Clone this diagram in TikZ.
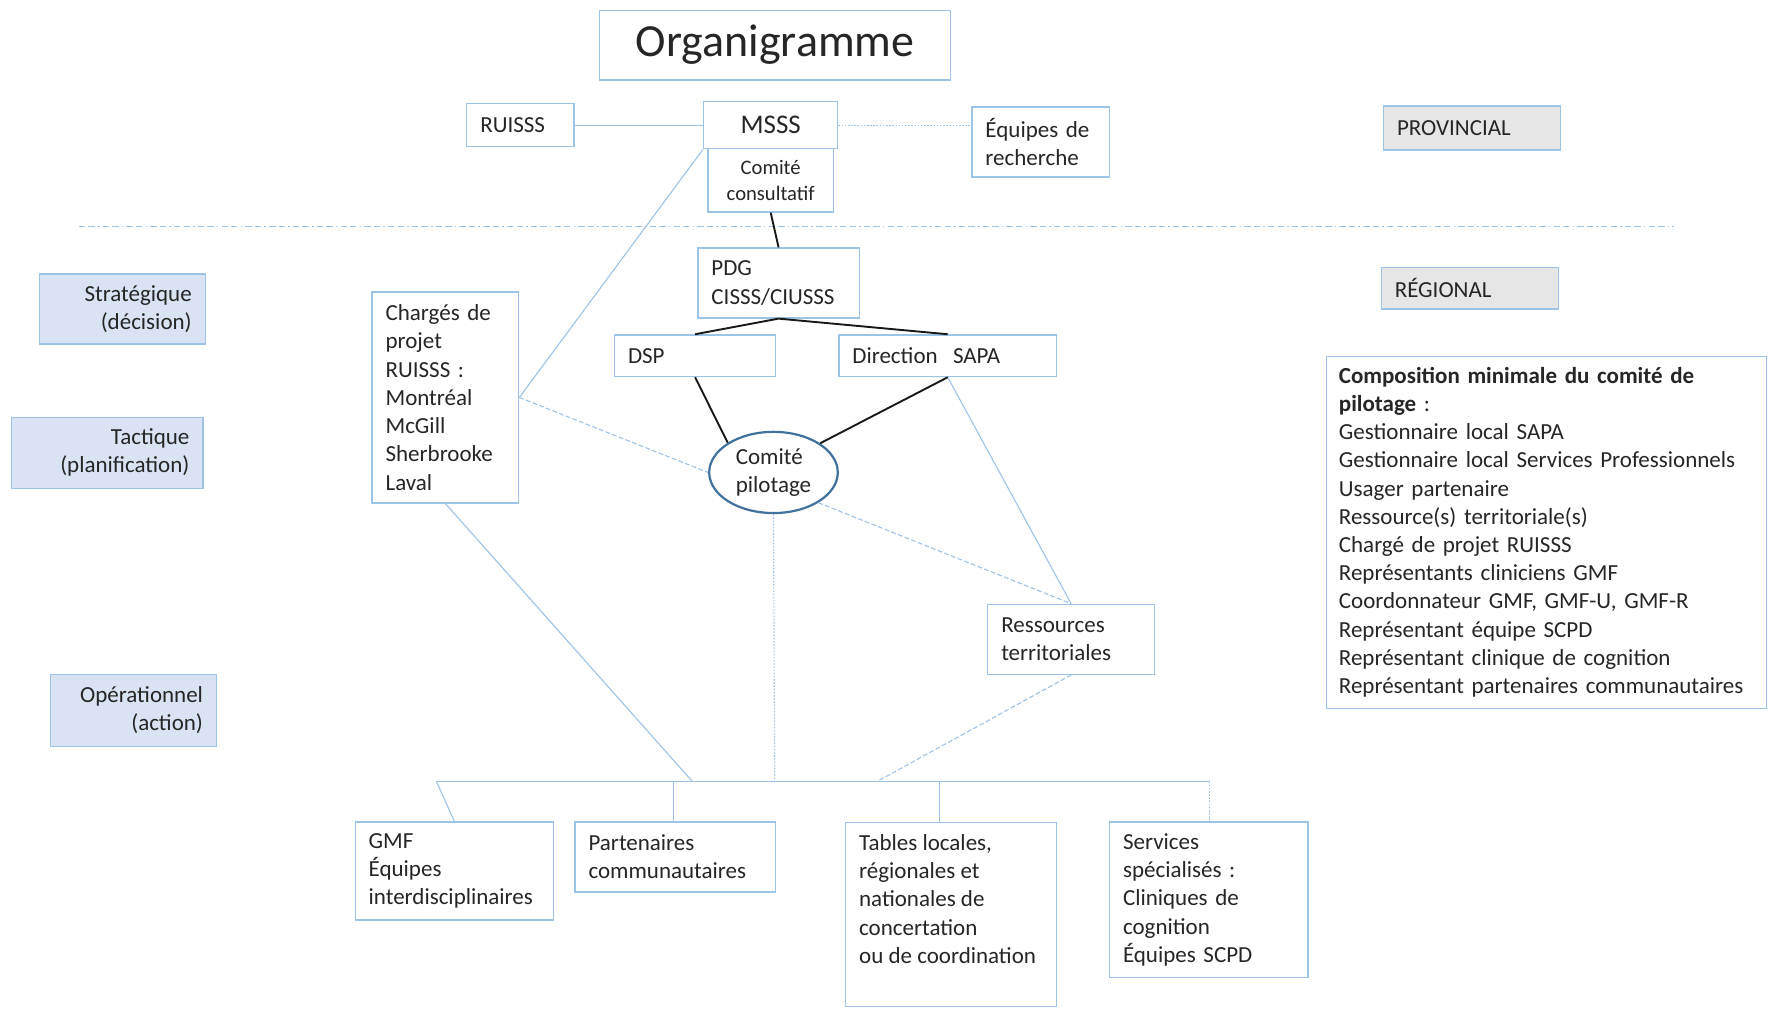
\documentclass[tikz,border=0pt]{standalone}
\usepackage{fontspec}
\setmainfont{Carlito}
\usetikzlibrary{shapes.geometric,calc}
\definecolor{lb}{HTML}{9DC3E6}
\definecolor{levfill}{HTML}{DAE3F3}
\definecolor{grayfill}{HTML}{E7E6E6}
\definecolor{txt}{HTML}{262626}
\definecolor{ellc}{HTML}{41719C}
\newcommand\myfnt{\fontsize{14.5}{17.8}\selectfont}
\tikzset{
  box/.style={draw=lb, line width=0.8pt, fill=white, text=txt, inner ysep=0pt, inner xsep=0.3cm, font=\myfnt},
  lbox/.style={box, align=left},
  levelbox/.style={box, fill=levfill, align=right},
  graybox/.style={box, fill=grayfill, align=left},
  conn/.style={draw=lb, line width=0.7pt},
  blk/.style={draw=black!90, line width=1.2pt},
  fdash/.style={dash pattern=on 3pt off 1.5pt},
  fdot/.style={dash pattern=on 1pt off 1pt},
}
\begin{document}
\begin{tikzpicture}[x=0.025cm, y=-0.025cm]
\useasboundingbox (0,0) rectangle (1568,896);

% title
\node[box, minimum width=7.775cm, minimum height=1.55cm, font=\fontsize{29}{34}\selectfont] (title) at (687.5,40) {Organigramme};

% provincial level
\node[lbox, text width=1.775cm, minimum height=0.95cm] (ruisss) at (461.5,111) {RUISSS};
\node[box, minimum width=2.775cm, minimum height=1.4cm, align=center, font=\fontsize{13}{16.4}\selectfont] (consult) at (683.5,160) {Comité\\consultatif};
\node[box, minimum width=2.975cm, minimum height=1.05cm, font=\fontsize{17}{20}\selectfont] (msss) at (683.5,111) {MSSS};
\node[lbox, text width=2.45cm, minimum height=1.55cm] (equipes) at (923,126) {Équipes de\\recherche};
\node[graybox, text width=3.325cm, minimum height=0.975cm] (prov) at (1305.5,113.5) {PROVINCIAL};
\node[graybox, text width=3.325cm, minimum height=0.925cm] (reg) at (1303.5,255.5) {RÉGIONAL};

% separator
\coordinate (sepL) at (70,201);
\coordinate (sepR) at (1485,201);
\draw[conn, line width=0.9pt, dash pattern=on 4pt off 2pt on 4pt off 2pt on 1pt off 2pt] (sepL) -- (sepR);

% level labels
\node[levelbox, text width=3.075cm, minimum height=1.55cm] (strat) at (108.5,274) {Stratégique\\(décision)};
\node[levelbox, text width=3.65cm, minimum height=1.575cm] (tact) at (95,401.5) {Tactique\\(planification)};
\node[levelbox, text width=3.075cm, minimum height=1.6cm] (oper) at (118.5,630) {Opérationnel\\(action)};

% regional nodes
\node[lbox, text width=2.65cm, minimum height=4.675cm] (charges) at (395,352.5) {Chargés de\\projet\\RUISSS :\\Montréal\\McGill\\Sherbrooke\\Laval};
\node[lbox, text width=2.975cm, minimum height=1.55cm] (pdg) at (690.5,251) {PDG\\CISSS/CIUSSS};
\node[lbox, text width=2.975cm, minimum height=0.925cm] (dsp) at (616.5,315.5) {DSP};
\node[lbox, text width=4.225cm, minimum height=0.925cm] (sapa) at (840.5,315.5) {Direction~ SAPA};
\node[ellipse, draw=ellc, line width=1.4pt, fill=white, text=txt, font=\myfnt, minimum width=2.85cm, minimum height=1.8cm, inner sep=0pt, align=left] (pilot) at (686,419) {Comité\\pilotage};
\node[lbox, text width=3.1cm, minimum height=1.55cm] (ress) at (950,567) {Ressources\\territoriales};
\node[lbox, text width=9.2cm, inner xsep=0.27cm, minimum height=7.8cm] (compo) at (1371.5,472) {\textbf{Composition minimale du comité de}\\\textbf{pilotage} :\\Gestionnaire local SAPA\\Gestionnaire local Services Professionnels\\Usager partenaire\\Ressource(s) territoriale(s)\\Chargé de projet RUISSS\\Représentants cliniciens GMF\\Coordonnateur GMF, GMF-U, GMF-R\\Représentant équipe SCPD\\Représentant clinique de cognition\\Représentant partenaires communautaires};

% operational nodes
\node[lbox, text width=3.8cm, minimum height=2.175cm] (gmf) at (403,772.5) {GMF\\Équipes\\interdisciplinaires};
\node[lbox, text width=3.85cm, minimum height=1.55cm] (part) at (599,760) {Partenaires\\communautaires};
\node[box, anchor=north, minimum height=4.075cm] (tables) at (843.5,729) {\parbox[c][3.55cm][t]{4.075cm}{\raggedright Tables locales,\\régionales et\\nationales de\\concertation\\ou de coordination}};
\node[lbox, text width=3.8cm, minimum height=3.45cm] (serv) at (1072,798) {Services\\spécialisés :\\Cliniques de\\cognition\\Équipes SCPD};

% bus
\coordinate (busL) at (387,693);
\coordinate (busR) at (1073,693);
\coordinate (busC) at (614,693);
\coordinate (busM) at (687,693);
\coordinate (busT) at (778,693);
\coordinate (busP) at (597,693);
\coordinate (busQ) at (833,693);
\draw[conn] (busL) -- (busR);
\draw[conn] (busL) -- (gmf.north);
\draw[conn] (busP) -- (busP |- part.north);
\draw[conn] (busQ) -- (busQ |- tables.north);
\draw[conn, fdot] (busR) -- (busR |- serv.north);

% light-blue connectors
\draw[conn] (ruisss.east) -- (msss.west);
\draw[conn, fdot] (msss.east) -- (msss.east -| equipes.west);
\draw[conn] (msss.south west) -- (charges.east);
\draw[conn, fdash] (charges.east) -- (pilot.west);
\draw[conn] (sapa.south) -- (ress.north);
\draw[conn, fdash] (pilot.-34) -- (ress.north);
\draw[conn, fdot] (pilot.south) -- (busM);
\draw[conn] (charges.south) -- (busC);
\draw[conn, fdash] (ress.south) -- (busT);

% black connectors
\draw[blk] (consult.south) -- (pdg.north);
\draw[blk] (pdg.south) -- (dsp.north);
\draw[blk] (pdg.south) -- (sapa.north);
\draw[blk] (dsp.south) -- (pilot.147);
\draw[blk] (sapa.south) -- (pilot.32);
\end{tikzpicture}
\end{document}
